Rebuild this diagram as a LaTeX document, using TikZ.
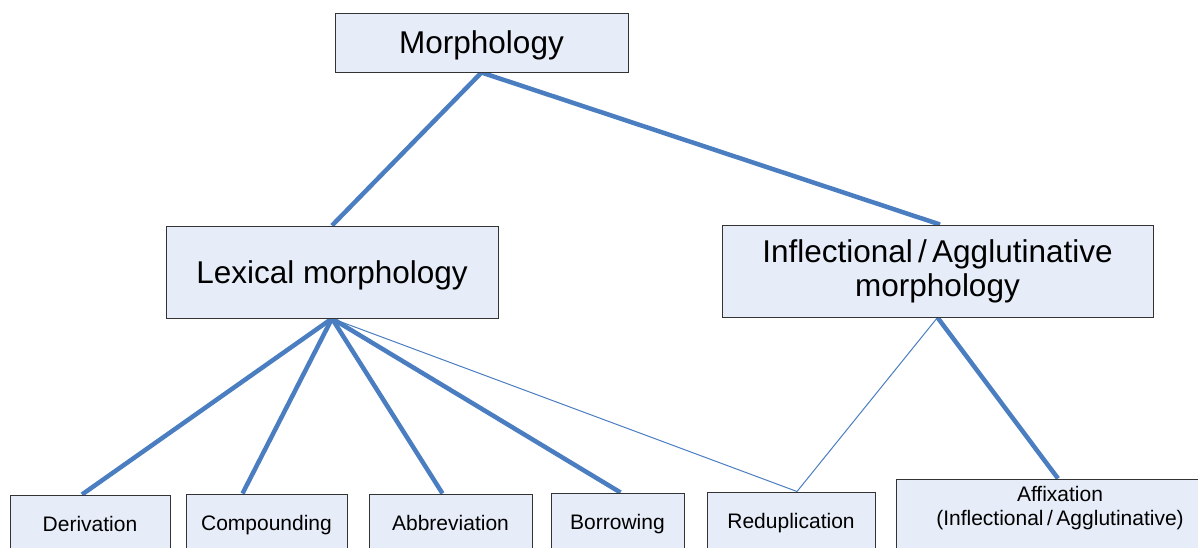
\documentclass[tikz,border=0pt]{standalone}
\usepackage{fontspec}
\setmainfont{Liberation Sans}
\usetikzlibrary{backgrounds}
\definecolor{boxfill}{HTML}{E7EDF8}
\definecolor{boxline}{HTML}{333333}
\definecolor{linkblue}{HTML}{4A7EC0}
\begin{document}
\begin{tikzpicture}[x=1pt,y=-1pt,
  box/.style={draw=boxline, line width=1pt, fill=boxfill, inner sep=0pt, align=center},
  bigtext/.style={font=\fontsize{31.5}{34}\selectfont},
  bigone/.style={bigtext, text height=23pt, text depth=1pt},
  smalltext/.style={font=\fontsize{21}{24}\selectfont},
  smallone/.style={smalltext, text height=15pt, text depth=0pt},
  thicklink/.style={draw=linkblue, line width=4.5pt},
  thinlink/.style={draw=linkblue, line width=1pt}]
\useasboundingbox (0,0) rectangle (1198,547);
\clip (0,0) rectangle (1198,547);
% top levels
\node[box, bigone, minimum width=293pt, minimum height=59pt] (morph) at (481.5,42.5) {Morphology};
\node[box, bigone, minimum width=332pt, minimum height=92pt] (lex) at (332,272) {Lexical morphology};
\node[box, bigtext, minimum width=431pt, minimum height=92pt] (infl) at (937.5,271) {Inflectional\,/\,Agglutinative\\morphology};
% bottom row
\node[box, smallone, minimum width=160pt, minimum height=57pt] (der) at (90,523.5) {Derivation};
\node[box, smallone, minimum width=161pt, minimum height=57pt] (comp) at (266.5,522.5) {Compounding};
\node[box, smallone, minimum width=163pt, minimum height=57pt] (abb) at (450.5,522.5) {Abbreviation};
\node[box, smallone, minimum width=133pt, minimum height=57pt] (bor) at (617.5,521.5) {Borrowing};
\node[box, smallone, minimum width=168pt, minimum height=57pt] (red) at (791,520.5) {Reduplication};
\node[box, minimum width=328pt, minimum height=82pt] (aff) at (1060,520) {};
\node[smalltext, align=center, inner sep=0pt] (afftext) at (1060,508) {Affixation\\(Inflectional\,/\,Agglutinative)};
% connectors
\begin{scope}[on background layer]
\draw[thicklink] (morph.south) -- ([xshift=2.5pt]infl.north);
\draw[thicklink] (morph.south) -- (lex.north);
\draw[thicklink] (lex.south) -- ([xshift=-8pt]der.north);
\draw[thicklink] (lex.south) -- ([xshift=-24pt]comp.north);
\draw[thicklink] (lex.south) -- ([xshift=-8pt]abb.north);
\draw[thicklink] (lex.south) -- ([xshift=3pt]bor.north);
\draw[thinlink] (lex.south) -- ([xshift=6pt]red.north);
\draw[thinlink] (infl.south) -- ([xshift=6pt]red.north);
\draw[thicklink] (infl.south) -- ([xshift=-2pt]aff.north);
\end{scope}
\end{tikzpicture}
\end{document}
